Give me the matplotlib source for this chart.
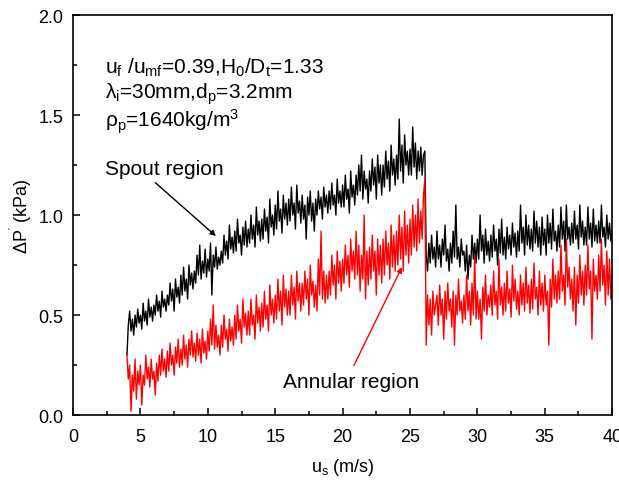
import numpy as np
import matplotlib
matplotlib.use("Agg")
import matplotlib.pyplot as plt
from matplotlib.ticker import MultipleLocator

plt.rcParams['font.family'] = ['Liberation Sans', 'DejaVu Sans']
plt.rcParams['mathtext.default'] = 'regular'

# pressure drop samples, one every 0.1 m/s from 4.0 to 40.0 m/s
spout = [
    0.30, 0.45, 0.52, 0.42, 0.48, 0.40, 0.50, 0.44, 0.53, 0.46,
    0.50, 0.43, 0.56, 0.47, 0.52, 0.45, 0.58, 0.49, 0.54, 0.47,
    0.55, 0.50, 0.60, 0.52, 0.57, 0.49, 0.62, 0.54, 0.58, 0.52,
    0.60, 0.55, 0.66, 0.57, 0.63, 0.52, 0.68, 0.59, 0.64, 0.56,
    0.70, 0.60, 0.74, 0.62, 0.68, 0.58, 0.75, 0.65, 0.71, 0.63,
    0.72, 0.66, 0.80, 0.70, 0.85, 0.68, 0.77, 0.71, 0.83, 0.69,
    0.78, 0.72, 0.86, 0.60, 0.80, 0.74, 0.84, 0.73, 0.79, 0.75,
    0.82, 0.76, 0.90, 0.80, 0.87, 0.78, 0.95, 0.83, 0.89, 0.81,
    0.92, 0.82, 0.98, 0.86, 0.90, 0.80, 0.94, 0.85, 0.97, 0.84,
    0.93, 0.86, 1.00, 0.88, 0.95, 0.84, 1.04, 0.90, 0.97, 0.87,
    0.98, 0.88, 1.03, 0.92, 0.99, 0.86, 1.08, 0.94, 1.00, 0.90,
    1.05, 0.93, 1.12, 0.97, 1.03, 0.91, 1.10, 0.98, 1.06, 0.95,
    1.08, 0.97, 1.14, 1.00, 1.06, 0.93, 1.15, 1.01, 1.07, 0.96,
    1.10, 0.98, 1.05, 0.88, 1.09, 1.00, 1.12, 0.97, 1.06, 0.92,
    1.08, 1.00, 1.12, 1.03, 1.09, 0.98, 1.14, 1.04, 1.10, 1.01,
    1.12, 1.03, 1.16, 1.05, 1.10, 1.00, 1.18, 1.06, 1.12, 1.04,
    1.15, 1.04, 1.20, 1.08, 1.13, 1.01, 1.22, 1.09, 1.15, 1.05,
    1.20, 1.10, 1.25, 1.12, 1.30, 1.08, 1.22, 1.13, 1.18, 1.06,
    1.22, 1.12, 1.28, 1.15, 1.24, 1.08, 1.30, 1.16, 1.25, 1.10,
    1.25, 1.14, 1.32, 1.18, 1.27, 1.12, 1.35, 1.20, 1.28, 1.15,
    1.30, 1.18, 1.48, 1.22, 1.35, 1.16, 1.40, 1.25, 1.32, 1.20,
    1.33, 1.20, 1.44, 1.24, 1.36, 1.18, 1.32, 1.22, 1.34, 1.20,
    1.30, 1.32, 0.80, 0.72, 0.86, 0.76, 0.90, 0.78, 0.84, 0.74,
    0.92, 0.78, 0.85, 0.74, 0.88, 0.80, 0.95, 0.77, 0.83, 0.72,
    0.86, 0.76, 0.92, 0.79, 1.05, 0.78, 0.84, 0.74, 0.88, 0.80,
    0.82, 0.72, 0.85, 0.68, 0.80, 0.74, 0.90, 0.78, 0.86, 0.76,
    0.88, 0.78, 1.00, 0.82, 0.90, 0.76, 0.93, 0.80, 0.87, 0.77,
    0.90, 0.79, 0.95, 0.82, 0.88, 0.75, 0.93, 0.81, 0.98, 0.80,
    0.89, 0.78, 0.94, 0.83, 0.90, 0.80, 0.96, 0.84, 0.91, 0.79,
    0.92, 0.82, 1.05, 0.86, 0.94, 0.80, 1.00, 0.85, 0.95, 0.83,
    0.93, 0.82, 1.02, 0.86, 0.97, 0.84, 0.94, 0.80, 0.99, 0.85,
    0.93, 0.80, 1.00, 0.86, 0.96, 0.83, 1.03, 0.87, 0.92, 0.82,
    0.95, 0.84, 1.04, 0.88, 0.97, 0.82, 1.05, 0.88, 0.94, 0.85,
    0.96, 0.86, 1.02, 0.88, 0.95, 0.83, 1.05, 0.89, 0.97, 0.85,
    0.94, 0.85, 1.04, 0.88, 0.96, 0.84, 1.03, 0.87, 0.95, 0.86,
    0.97, 0.86, 1.05, 0.89, 0.94, 0.84, 1.00, 0.88, 0.96, 0.87,
    0.92,
]

annular = [
    0.30, 0.18, 0.25, 0.02, 0.20, 0.12, 0.28, 0.08, 0.22, 0.15,
    0.25, 0.05, 0.20, 0.15, 0.30, 0.18, 0.24, 0.14, 0.28, 0.18,
    0.22, 0.10, 0.26, 0.17, 0.30, 0.20, 0.33, 0.22, 0.28, 0.19,
    0.32, 0.22, 0.36, 0.25, 0.30, 0.20, 0.34, 0.26, 0.38, 0.24,
    0.33, 0.25, 0.40, 0.28, 0.35, 0.24, 0.38, 0.30, 0.42, 0.29,
    0.36, 0.27, 0.41, 0.30, 0.38, 0.26, 0.43, 0.31, 0.37, 0.28,
    0.42, 0.32, 0.48, 0.35, 0.55, 0.33, 0.45, 0.34, 0.40, 0.30,
    0.45, 0.34, 0.50, 0.38, 0.43, 0.32, 0.48, 0.37, 0.44, 0.35,
    0.50, 0.38, 0.55, 0.42, 0.48, 0.36, 0.58, 0.44, 0.51, 0.40,
    0.52, 0.40, 0.58, 0.45, 0.50, 0.38, 0.60, 0.46, 0.54, 0.42,
    0.56, 0.44, 0.62, 0.48, 0.55, 0.42, 0.65, 0.50, 0.58, 0.46,
    0.60, 0.48, 0.68, 0.52, 0.62, 0.45, 0.70, 0.54, 0.63, 0.50,
    0.62, 0.50, 0.70, 0.55, 0.64, 0.48, 0.72, 0.57, 0.66, 0.52,
    0.66, 0.55, 0.72, 0.58, 0.68, 0.50, 0.75, 0.60, 0.67, 0.54,
    0.65, 0.52, 0.78, 0.60, 0.92, 0.58, 0.72, 0.56, 0.70, 0.58,
    0.72, 0.60, 0.80, 0.65, 0.75, 0.58, 0.82, 0.66, 0.77, 0.62,
    0.78, 0.66, 0.85, 0.70, 0.80, 0.64, 0.88, 0.72, 0.82, 0.68,
    0.92, 0.70, 0.85, 0.62, 0.80, 0.68, 1.00, 0.58, 0.82, 0.65,
    0.84, 0.68, 0.90, 0.72, 0.82, 0.60, 0.88, 0.70, 0.85, 0.66,
    0.88, 0.70, 0.92, 0.75, 0.86, 0.68, 0.95, 0.74, 0.90, 0.72,
    0.92, 0.75, 1.00, 0.78, 0.94, 0.72, 1.02, 0.80, 0.95, 0.76,
    0.98, 0.80, 1.05, 0.84, 1.00, 0.82, 1.08, 0.86, 1.02, 0.88,
    1.10, 1.18, 0.35, 0.60, 0.45, 0.58, 0.40, 0.62, 0.50, 0.55,
    0.60, 0.45, 0.65, 0.50, 0.58, 0.38, 0.62, 0.48, 0.66, 0.52,
    0.58, 0.44, 0.62, 0.35, 0.60, 0.50, 0.68, 0.52, 0.57, 0.46,
    0.60, 0.48, 0.70, 0.52, 0.62, 0.45, 0.66, 0.50, 0.80, 0.48,
    0.62, 0.48, 0.58, 0.38, 0.64, 0.52, 0.70, 0.50, 0.60, 0.54,
    0.65, 0.50, 0.72, 0.55, 0.62, 0.48, 0.78, 0.55, 0.64, 0.50,
    0.66, 0.52, 0.72, 0.56, 0.63, 0.49, 0.75, 0.57, 0.68, 0.53,
    0.62, 0.50, 0.70, 0.55, 0.66, 0.52, 0.74, 0.56, 0.65, 0.51,
    0.68, 0.53, 0.76, 0.58, 0.64, 0.50, 0.72, 0.55, 0.66, 0.52,
    0.70, 0.55, 0.62, 0.35, 0.68, 0.54, 0.78, 0.58, 0.70, 0.56,
    0.72, 0.58, 0.85, 0.62, 0.70, 0.55, 0.88, 0.64, 0.74, 0.58,
    0.68, 0.52, 0.74, 0.45, 0.70, 0.56, 0.80, 0.60, 0.72, 0.55,
    0.75, 0.60, 0.85, 0.63, 0.72, 0.38, 0.78, 0.62, 0.70, 0.58,
    0.80, 0.62, 0.88, 0.65, 0.75, 0.55, 0.82, 0.60, 0.78, 0.58,
    0.72,
]

us = np.linspace(4.0, 40.0, len(spout))

fig = plt.figure(figsize=(6.19, 4.85), dpi=100)
ax = fig.add_axes([0.118, 0.142, 0.871, 0.825])

ax.plot(us, spout, color='black', lw=1.0)
ax.plot(us, annular, color='red', lw=1.0)

ax.set_xlim(0, 40)
ax.set_ylim(0, 2.0)
ax.xaxis.set_major_locator(MultipleLocator(5))
ax.xaxis.set_minor_locator(MultipleLocator(2.5))
ax.yaxis.set_major_locator(MultipleLocator(0.5))
ax.yaxis.set_minor_locator(MultipleLocator(0.25))
ax.yaxis.set_major_formatter(plt.FormatStrFormatter('%.1f'))
ax.tick_params(which='both', direction='in', top=False, right=False, labelsize=13, width=1.1)
ax.tick_params(which='major', length=5)
ax.tick_params(which='minor', length=3)
ax.tick_params(axis='x', which='major', pad=9)
ax.tick_params(axis='y', which='major', pad=7)
for s in ax.spines.values():
    s.set_linewidth(1.2)

ax.set_xlabel('u$_s$ (m/s)', fontsize=13, labelpad=8)
ax.set_ylabel("ΔP$^{'}$ (kPa)", fontsize=13, labelpad=3)

ax.text(2.37, 1.71, 'u$_f$ /u$_{mf}$=0.39,H$_0$/D$_t$=1.33', fontsize=15)
ax.text(2.37, 1.585, 'λ$_i$=30mm,d$_p$=3.2mm', fontsize=15)
ax.text(2.37, 1.445, 'ρ$_p$=1640kg/m$^3$', fontsize=15)

ax.annotate('Spout region', xy=(10.6, 0.895), xytext=(2.37, 1.205), fontsize=15,
            arrowprops=dict(arrowstyle='-|>', color='black', lw=1, mutation_scale=8,
                            shrinkA=2, shrinkB=0, relpos=(0.38, 0.0)))
ax.annotate('Annular region', xy=(24.4, 0.74), xytext=(20.6, 0.14), fontsize=15, ha='center',
            arrowprops=dict(arrowstyle='-|>', color='red', lw=1, mutation_scale=8,
                            shrinkA=3, shrinkB=0, relpos=(0.5, 1.0)))

fig.savefig('out.png', dpi=100)
